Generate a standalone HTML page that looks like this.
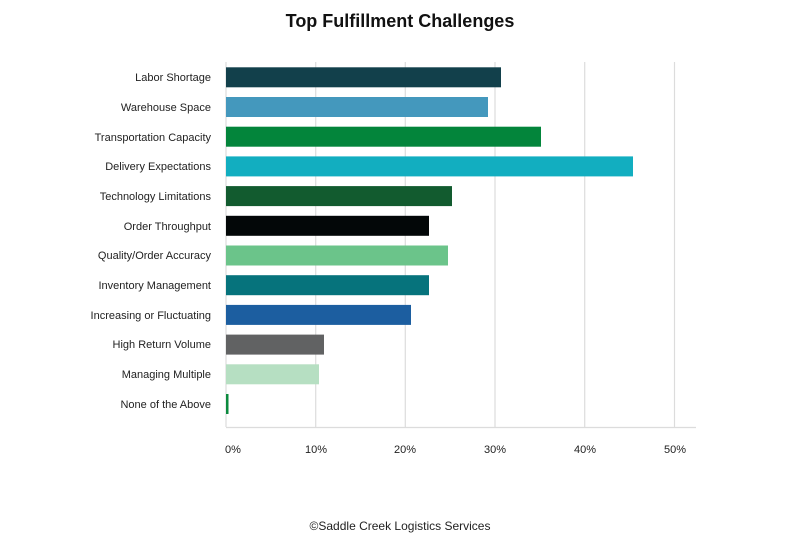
<!DOCTYPE html>
<html><head><meta charset="utf-8"><style>
body{margin:0;background:#fff;}
svg text{font-family:"Liberation Sans",sans-serif;}
</style></head><body>
<svg width="800" height="533" xmlns="http://www.w3.org/2000/svg">
<rect width="800" height="533" fill="#fff"/>
<text x="400" y="27" text-anchor="middle" font-size="18" font-weight="bold" fill="#111">Top Fulfillment Challenges</text>
<g stroke="#dcdcdc" stroke-width="1.2">
<line x1="226" y1="62" x2="226" y2="427"/>
<line x1="315.7" y1="62" x2="315.7" y2="427"/>
<line x1="405.3" y1="62" x2="405.3" y2="427"/>
<line x1="495" y1="62" x2="495" y2="427"/>
<line x1="584.7" y1="62" x2="584.7" y2="427"/>
<line x1="674.5" y1="62" x2="674.5" y2="427"/>
<line x1="226" y1="427.5" x2="696" y2="427.5"/>
</g>
<g>
<rect x="226" y="67.3" width="275" height="20" fill="#12404b"/>
<rect x="226" y="97" width="262" height="20" fill="#4498bd"/>
<rect x="226" y="126.7" width="315" height="20" fill="#03853b"/>
<rect x="226" y="156.4" width="407" height="20" fill="#12aec0"/>
<rect x="226" y="186.1" width="226" height="20" fill="#125b2f"/>
<rect x="226" y="215.8" width="203" height="20" fill="#030708"/>
<rect x="226" y="245.5" width="222" height="20" fill="#6bc48a"/>
<rect x="226" y="275.2" width="203" height="20" fill="#06737c"/>
<rect x="226" y="304.9" width="185" height="20" fill="#1c5ea0"/>
<rect x="226" y="334.6" width="98" height="20" fill="#616263"/>
<rect x="226" y="364.3" width="93" height="20" fill="#b6dfc2"/>
<rect x="226" y="394" width="2.5" height="20" fill="#0b8a3e"/>
</g>
<g font-size="11" fill="#222" text-anchor="end">
<text x="211" y="81">Labor Shortage</text>
<text x="211" y="111">Warehouse Space</text>
<text x="211" y="141">Transportation Capacity</text>
<text x="211" y="170">Delivery Expectations</text>
<text x="211" y="200">Technology Limitations</text>
<text x="211" y="230">Order Throughput</text>
<text x="211" y="259">Quality/Order Accuracy</text>
<text x="211" y="289">Inventory Management</text>
<text x="211" y="319">Increasing or Fluctuating</text>
<text x="211" y="348">High Return Volume</text>
<text x="211" y="378">Managing Multiple</text>
<text x="211" y="408">None of the Above</text>
</g>
<g font-size="11" fill="#222" text-anchor="middle">
<text x="233" y="453">0%</text>
<text x="316" y="453">10%</text>
<text x="405" y="453">20%</text>
<text x="495" y="453">30%</text>
<text x="585" y="453">40%</text>
<text x="675" y="453">50%</text>
</g>
<text x="400" y="530" text-anchor="middle" font-size="12" fill="#222">©Saddle Creek Logistics Services</text>
</svg>
</body></html>
